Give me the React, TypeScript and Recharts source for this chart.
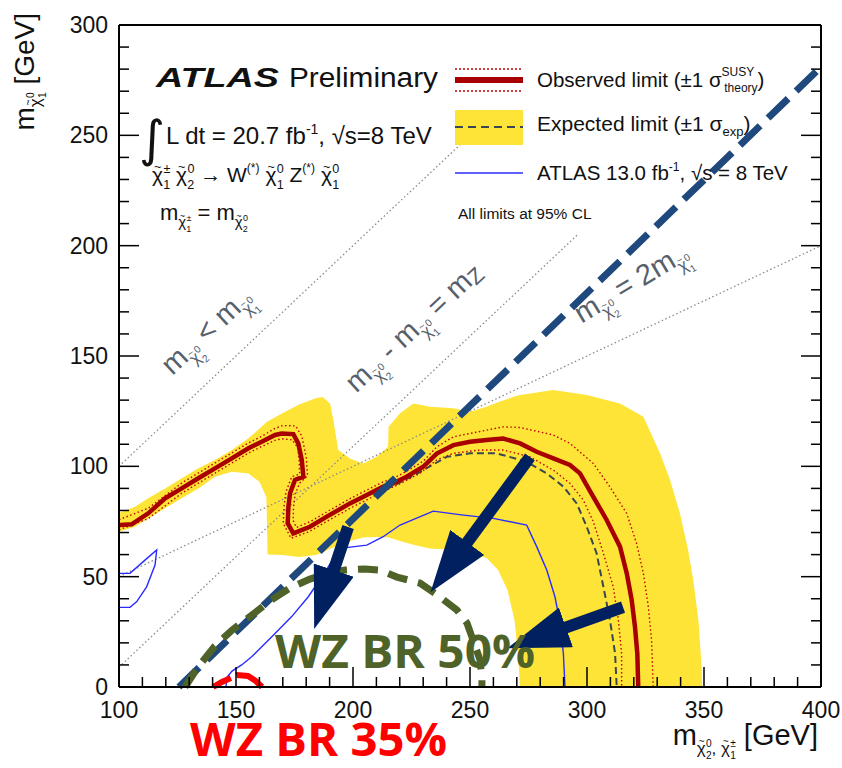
import { ComposedChart, Line, Area, XAxis, YAxis } from "recharts";

const SANS = "'Liberation Sans', Arial, Helvetica, sans-serif";
const BOLD_SANS = "'Open Sans', 'Noto Sans', sans-serif";

// axis ticks (GeV), minor every 10, labelled every 50
const xTicks = [100, 110, 120, 130, 140, 150, 160, 170, 180, 190, 200, 210, 220, 230, 240, 250, 260, 270, 280, 290, 300, 310, 320, 330, 340, 350, 360, 370, 380, 390, 400];
const yTicks = [0, 10, 20, 30, 40, 50, 60, 70, 80, 90, 100, 110, 120, 130, 140, 150, 160, 170, 180, 190, 200, 210, 220, 230, 240, 250, 260, 270, 280, 290, 300];

// expected limit +-1 sigma band: [low, high] per x
const expBand = [
  { x: 100, band: [70.4, 78.8] },
  { x: 106.8, band: [72.6, 81.7] },
  { x: 112.5, band: [76.4, 85.5] },
  { x: 119.7, band: [81.0, 90.0] },
  { x: 126.8, band: [85.5, 94.6] },
  { x: 133.9, band: [90.0, 99.1] },
  { x: 141.0, band: [95.3, 102.9] },
  { x: 148.2, band: [97.6, 107.4] },
  { x: 155.3, band: [96.8, 112.7] },
  { x: 160.0, band: [93.0, 117.0] },
  { x: 163.0, band: [86.0, 120.0] },
  { x: 163.5, band: [60.0, 120.3] },
  { x: 170.0, band: [59.8, 124.2] },
  { x: 177.0, band: [58.9, 128.0] },
  { x: 184.0, band: [59.8, 130.8] },
  { x: 187.0, band: [61.0, 131.4] },
  { x: 190.2, band: [62.6, 128.5] },
  { x: 191.6, band: [63.2, 121.0] },
  { x: 193.7, band: [64.2, 107.4] },
  { x: 198.7, band: [66.2, 103.6] },
  { x: 204.4, band: [67.8, 101.3] },
  { x: 210.1, band: [68.0, 104.3] },
  { x: 215.0, band: [67.8, 108.9] },
  { x: 215.2, band: [67.8, 117.9] },
  { x: 220.1, band: [66.2, 124.0] },
  { x: 225.8, band: [64.5, 128.5] },
  { x: 232.9, band: [62.8, 127.0] },
  { x: 242.9, band: [62.1, 126.3] },
  { x: 250.0, band: [60.7, 124.7] },
  { x: 257.1, band: [58.5, 127.0] },
  { x: 262.0, band: [53.0, 129.0] },
  { x: 266.0, band: [44.0, 130.5] },
  { x: 269.0, band: [30.4, 131.7] },
  { x: 270.5, band: [15.4, 132.1] },
  { x: 271.4, band: [0, 132.3] },
  { x: 285.6, band: [0, 134.6] },
  { x: 299.9, band: [0, 132.3] },
  { x: 314.1, band: [0, 128.5] },
  { x: 324.1, band: [0, 122.5] },
  { x: 331.2, band: [0, 105.9] },
  { x: 335.5, band: [0, 93.8] },
  { x: 339.7, band: [0, 78.7] },
  { x: 343.2, band: [0, 62.1] },
  { x: 345.4, band: [0, 48.5] },
  { x: 347.6, band: [0, 30.4] },
  { x: 349.0, band: [0, 9.2] },
  { x: 349.2, band: [0, 0] },
];

// observed limit
const observed = [
  { x: 100.4, y: 73.4 }, { x: 105.4, y: 73.7 }, { x: 112.5, y: 78.7 }, { x: 119.7, y: 85.5 },
  { x: 126.8, y: 90.0 }, { x: 133.9, y: 94.6 }, { x: 141.0, y: 99.1 }, { x: 148.2, y: 103.6 },
  { x: 155.3, y: 108.2 }, { x: 161.0, y: 111.1 }, { x: 166.7, y: 114.2 }, { x: 169.5, y: 114.9 },
  { x: 174.5, y: 114.6 }, { x: 176.6, y: 110.4 }, { x: 178.1, y: 102.9 }, { x: 178.8, y: 95.3 },
  { x: 175.2, y: 93.8 }, { x: 173.1, y: 87.8 }, { x: 172.4, y: 81.7 }, { x: 172.1, y: 74.2 },
  { x: 174.5, y: 69.6 }, { x: 181.6, y: 72.6 }, { x: 188.8, y: 77.2 }, { x: 198.7, y: 83.2 },
  { x: 205.9, y: 87.0 }, { x: 212.9, y: 90.8 }, { x: 217.2, y: 92.3 }, { x: 222.9, y: 95.3 },
  { x: 230.0, y: 99.8 }, { x: 235.8, y: 105.8 }, { x: 242.9, y: 109.6 }, { x: 250.0, y: 111.1 },
  { x: 257.1, y: 111.9 }, { x: 264.2, y: 112.6 }, { x: 271.4, y: 110.4 }, { x: 278.5, y: 106.6 },
  { x: 285.6, y: 103.6 }, { x: 292.7, y: 100.6 }, { x: 297.0, y: 96.8 }, { x: 302.7, y: 86.2 },
  { x: 308.4, y: 75.7 }, { x: 314.1, y: 63.6 }, { x: 317.0, y: 51.5 }, { x: 319.1, y: 39.4 },
  { x: 320.5, y: 27.3 }, { x: 321.5, y: 15.2 }, { x: 321.9, y: 0 },
];

// observed +1 sigma (theory)
const obsUp = [
  { x: 100, y: 75.8 }, { x: 112.5, y: 81.0 }, { x: 126.8, y: 92.4 }, { x: 141.0, y: 101.5 },
  { x: 155.3, y: 110.6 }, { x: 161.0, y: 113.6 }, { x: 166.7, y: 117.2 }, { x: 170.0, y: 118.5 },
  { x: 175.5, y: 118.3 }, { x: 178.2, y: 113.5 }, { x: 180.0, y: 104.0 }, { x: 180.6, y: 95.8 },
  { x: 177.3, y: 92.5 }, { x: 175.3, y: 87.6 }, { x: 174.6, y: 81.7 }, { x: 174.4, y: 75.5 },
  { x: 175.8, y: 72.3 }, { x: 181.8, y: 75.0 }, { x: 189.0, y: 79.5 }, { x: 199.0, y: 85.5 },
  { x: 206.0, y: 89.3 }, { x: 213.0, y: 93.0 }, { x: 217.5, y: 94.7 }, { x: 223.0, y: 97.8 },
  { x: 230.0, y: 102.3 }, { x: 235.8, y: 108.8 }, { x: 242.9, y: 113.4 }, { x: 250.0, y: 114.9 },
  { x: 264.2, y: 117.9 }, { x: 271.4, y: 117.6 }, { x: 285.6, y: 114.2 }, { x: 292.7, y: 110.4 },
  { x: 302.7, y: 101.3 }, { x: 309.8, y: 90.7 }, { x: 317.0, y: 78.6 }, { x: 321.2, y: 65.0 },
  { x: 324.1, y: 51.5 }, { x: 326.2, y: 36.4 }, { x: 327.6, y: 21.2 }, { x: 328.3, y: 0 },
];

// observed -1 sigma (theory)
const obsDn = [
  { x: 100, y: 71.2 }, { x: 112.5, y: 76.3 }, { x: 126.8, y: 87.8 }, { x: 141.0, y: 96.9 },
  { x: 155.3, y: 106.0 }, { x: 161.0, y: 109.0 }, { x: 166.7, y: 111.8 }, { x: 169.5, y: 112.5 },
  { x: 174.0, y: 112.0 }, { x: 176.4, y: 108.5 }, { x: 177.0, y: 102.5 }, { x: 177.2, y: 96.5 },
  { x: 173.8, y: 95.3 }, { x: 171.3, y: 88.2 }, { x: 170.5, y: 81.7 }, { x: 170.2, y: 74.2 },
  { x: 173.5, y: 67.4 }, { x: 181.3, y: 70.4 }, { x: 188.8, y: 75.0 }, { x: 198.7, y: 81.0 },
  { x: 205.9, y: 84.8 }, { x: 212.9, y: 88.6 }, { x: 220.0, y: 92.0 }, { x: 228.6, y: 96.9 },
  { x: 235.8, y: 102.9 }, { x: 242.9, y: 105.9 }, { x: 254.3, y: 107.4 }, { x: 264.2, y: 107.4 },
  { x: 275.6, y: 104.3 }, { x: 285.6, y: 98.3 }, { x: 292.7, y: 92.3 }, { x: 298.4, y: 84.7 },
  { x: 302.6, y: 75.2 }, { x: 307.0, y: 60.6 }, { x: 311.2, y: 45.4 }, { x: 313.4, y: 30.4 },
  { x: 314.8, y: 15.1 }, { x: 314.8, y: 0 },
];

// expected limit
const expected = [
  { x: 210.0, y: 87.5 }, { x: 217.9, y: 91.5 }, { x: 228.6, y: 97.4 }, { x: 240.0, y: 104.3 },
  { x: 250.0, y: 105.9 }, { x: 261.4, y: 105.9 }, { x: 274.2, y: 102.1 }, { x: 282.8, y: 96.8 },
  { x: 289.9, y: 90.8 }, { x: 295.6, y: 83.2 }, { x: 299.9, y: 72.6 }, { x: 304.1, y: 60.6 },
  { x: 307.0, y: 45.4 }, { x: 309.8, y: 30.4 }, { x: 312.0, y: 15.2 }, { x: 312.7, y: 0 },
];

// ATLAS 13.0 fb-1 contours
const atlas13Left = [
  { x: 100.4, y: 51.5 }, { x: 104.7, y: 51.5 }, { x: 111.1, y: 57.5 }, { x: 116.1, y: 62.1 },
  { x: 115.4, y: 55.3 }, { x: 111.8, y: 45.4 }, { x: 107.6, y: 38.7 }, { x: 104.7, y: 36.1 },
  { x: 100.4, y: 36.1 },
];
const atlas13Main = [
  { x: 145.7, y: 0 }, { x: 146.2, y: 4.5 }, { x: 148.3, y: 7.2 }, { x: 152.4, y: 10.0 },
  { x: 156.7, y: 13.7 }, { x: 165.3, y: 22.8 }, { x: 173.8, y: 31.9 }, { x: 180.9, y: 40.9 },
  { x: 188.0, y: 52.1 }, { x: 194.4, y: 62.8 }, { x: 205.9, y: 64.3 }, { x: 212.9, y: 68.1 },
  { x: 220.1, y: 73.4 }, { x: 234.3, y: 79.7 }, { x: 247.2, y: 77.9 }, { x: 260.0, y: 76.4 },
  { x: 274.2, y: 73.4 }, { x: 278.5, y: 63.6 }, { x: 282.8, y: 53.0 }, { x: 286.3, y: 40.9 },
  { x: 288.5, y: 28.9 }, { x: 289.9, y: 15.2 }, { x: 290.6, y: 0 },
];

// kinematic reference lines
const diagEqual = [{ x: 100, y: 100 }, { x: 246, y: 246 }];
const diagMz = [{ x: 100, y: 9 }, { x: 296, y: 205 }];
const diagHalf = [{ x: 100, y: 50 }, { x: 400, y: 200 }];

// annotations
const wzBoundary = [{ x: 125.6, y: 0 }, { x: 400, y: 281 }];
const wz50 = [
  { x: 128.2, y: 0 }, { x: 133.8, y: 9.1 }, { x: 141.0, y: 18.6 }, { x: 148.3, y: 25.8 },
  { x: 156.8, y: 32.6 }, { x: 164.5, y: 39.0 }, { x: 173.1, y: 44.9 }, { x: 181.6, y: 48.9 },
  { x: 190.2, y: 51.7 }, { x: 196.6, y: 53.0 }, { x: 205.1, y: 53.5 }, { x: 211.5, y: 53.0 },
  { x: 218.8, y: 49.8 }, { x: 228.6, y: 47.1 }, { x: 237.2, y: 40.8 }, { x: 244.4, y: 34.9 },
  { x: 248.7, y: 29.0 }, { x: 251.3, y: 21.3 }, { x: 254.3, y: 12.2 }, { x: 255.1, y: 3.2 },
  { x: 255.1, y: 0 },
];
const wz35 = [
  { x: 140.2, y: 0 }, { x: 144.0, y: 2.3 }, { x: 147.9, y: 4.1 }, { x: 150.4, y: 5.4 },
  { x: 155.1, y: 5.0 }, { x: 158.5, y: 2.7 }, { x: 161.1, y: 0 },
];
const arrowA = [{ x: 197.9, y: 72.5 }, { x: 191.5, y: 52.1 }];
const arrowB = [{ x: 275.6, y: 104.2 }, { x: 248.3, y: 64.8 }];
const arrowC = [{ x: 315.4, y: 36.2 }, { x: 290.2, y: 26.7 }];

const frame = { stroke: "#000", strokeWidth: 2 };

const tickLen = (v: number) => (v % 50 === 0 ? 20 : 10);

const bottomTick = (p: any) => {
  const v = p.payload.value;
  return (
    <g>
      <line x1={p.x} y1={p.y} x2={p.x} y2={p.y - tickLen(v)} stroke="#000" strokeWidth={1.5} />
      {v % 50 === 0 && (
        <text x={p.x} y={p.y + 31} textAnchor="middle" fontSize={23} fontFamily={SANS} fill="#111">
          {v}
        </text>
      )}
    </g>
  );
};
const topTick = (p: any) => (
  <line x1={p.x} y1={p.y} x2={p.x} y2={p.y + tickLen(p.payload.value)} stroke="#000" strokeWidth={1.5} />
);
const leftTick = (p: any) => {
  const v = p.payload.value;
  return (
    <g>
      <line x1={p.x} y1={p.y} x2={p.x + tickLen(v)} y2={p.y} stroke="#000" strokeWidth={1.5} />
      {v % 50 === 0 && (
        <text x={p.x - 11} y={p.y + 8} textAnchor="end" fontSize={23} fontFamily={SANS} fill="#111">
          {v}
        </text>
      )}
    </g>
  );
};
const rightTick = (p: any) => (
  <line x1={p.x} y1={p.y} x2={p.x - tickLen(p.payload.value)} y2={p.y} stroke="#000" strokeWidth={1.5} />
);

// rich text: each piece carries its own size and baseline offset
type Seg = { t: string; s: number; o?: number; dx?: number };
const rich = (segs: Seg[]) => {
  let prev = 0;
  return segs.map((g, i) => {
    const o = g.o ?? 0;
    const dy = o - prev;
    prev = o;
    return (
      <tspan key={i} fontSize={g.s} dy={dy} dx={g.dx}>
        {g.t}
      </tspan>
    );
  });
};
// neutralino / chargino symbol: chi with a tilde, stacked sup/sub
const chi = (sup: string, sub: string, s: number, o: number): Seg[] => [
  { t: "\u03c7", s, o },
  { t: "~", s: s * 0.6, o: o - s * 0.52, dx: -s * 0.43 },
  { t: sup, s: s * 0.6, o: o - s * 0.42, dx: s * 0.1 },
  { t: sub, s: s * 0.6, o: o + s * 0.32, dx: -s * 0.6 * 0.57 },
];

const GRAY = "#56606b";

export default function App() {
  return (
    <div style={{ position: "fixed", left: 0, top: 0, width: 842, height: 768, background: "#fff" }}>
      <ComposedChart width={842} height={768} margin={{ top: 24, right: 20, bottom: 80, left: 118 }}>
        <XAxis dataKey="x" type="number" domain={[100, 400]} ticks={xTicks} interval={0} height={1}
          tickSize={0} tickMargin={0} tickLine={false} tick={bottomTick} axisLine={frame} />
        <XAxis xAxisId="t" orientation="top" type="number" domain={[100, 400]} allowDataOverflow ticks={xTicks}
          interval={0} height={1} tickSize={0} tickMargin={0} tickLine={false} tick={topTick} axisLine={frame} />
        <YAxis type="number" domain={[0, 300]} ticks={yTicks} interval={0} width={1}
          tickSize={0} tickMargin={0} tickLine={false} tick={leftTick} axisLine={frame} />
        <YAxis yAxisId="r" orientation="right" type="number" domain={[0, 300]} allowDataOverflow ticks={yTicks}
          interval={0} width={1} tickSize={0} tickMargin={0} tickLine={false} tick={rightTick} axisLine={frame} />

        <Area data={expBand} dataKey="band" type="linear" fill="#ffe438" fillOpacity={1} stroke="none" isAnimationActive={false} />

        <Line data={diagEqual} dataKey="y" stroke="#8a8a8a" strokeWidth={1.3} strokeDasharray="1.5 2.5" dot={false} isAnimationActive={false} />
        <Line data={diagMz} dataKey="y" stroke="#8a8a8a" strokeWidth={1.3} strokeDasharray="1.5 2.5" dot={false} isAnimationActive={false} />
        <Line data={diagHalf} dataKey="y" stroke="#8a8a8a" strokeWidth={1.3} strokeDasharray="1.5 2.5" dot={false} isAnimationActive={false} />

        <Line data={atlas13Left} dataKey="y" stroke="#2b2bff" strokeWidth={1.4} dot={false} isAnimationActive={false} />
        <Line data={atlas13Main} dataKey="y" stroke="#2b2bff" strokeWidth={1.4} dot={false} isAnimationActive={false} />
        <Line data={expected} dataKey="y" stroke="#3a4650" strokeWidth={2} strokeDasharray="7 4" dot={false} isAnimationActive={false} />
        <Line data={obsUp} dataKey="y" stroke="#c00000" strokeWidth={1.4} strokeDasharray="1.5 2.5" dot={false} isAnimationActive={false} />
        <Line data={obsDn} dataKey="y" stroke="#c00000" strokeWidth={1.4} strokeDasharray="1.5 2.5" dot={false} isAnimationActive={false} />
        <Line data={observed} dataKey="y" stroke="#a80000" strokeWidth={4.5} dot={false} isAnimationActive={false} />

        <Line data={wzBoundary} dataKey="y" stroke="#1f497d" strokeWidth={7} strokeDasharray="28 11" dot={false} isAnimationActive={false} />
        <Line data={wz50} dataKey="y" stroke="#4f6228" strokeWidth={7} strokeDasharray="20 11" dot={false} isAnimationActive={false} />
        <Line data={wz35} dataKey="y" stroke="#ff0000" strokeWidth={6} strokeDasharray="20 6 40" dot={false} isAnimationActive={false} />
        <Line data={arrowA} dataKey="y" stroke="#002060" strokeWidth={12} markerEnd="url(#navyHead)" dot={false} isAnimationActive={false} />
        <Line data={arrowB} dataKey="y" stroke="#002060" strokeWidth={12} markerEnd="url(#navyHead)" dot={false} isAnimationActive={false} />
        <Line data={arrowC} dataKey="y" stroke="#002060" strokeWidth={12} markerEnd="url(#navyHead)" dot={false} isAnimationActive={false} />
      </ComposedChart>

      <svg width={842} height={768} style={{ position: "absolute", left: 0, top: 0, pointerEvents: "none" }}
        fontFamily={SANS} fill="#111">
        <defs>
          <marker id="navyHead" markerUnits="userSpaceOnUse" markerWidth={64} markerHeight={42} refX={2} refY={21} orient="auto">
            <path d="M0,0 L62,21 L0,42 Z" fill="#002060" />
          </marker>
        </defs>

        {/* axis titles */}
        <text transform="translate(34,13) rotate(-90)" textAnchor="end">
          {rich([{ t: "m", s: 28 }, ...chi("0", "1", 17, 7), { t: " [GeV]", s: 28, o: 0 }])}
        </text>
        <text x={818} y={745} textAnchor="end">
          {rich([{ t: "m", s: 29 }, ...chi("0", "2", 17, 9), { t: ", ", s: 17, o: 9 }, ...chi("\u00b1", "1", 17, 9), { t: " [GeV]", s: 29, o: 0 }])}
        </text>

        {/* top-left header */}
        <text x={156} y={87} fontSize={28} fontWeight="bold" fontStyle="italic" textLength={123} lengthAdjust="spacingAndGlyphs">ATLAS</text>
        <text x={289} y={87} fontSize={27} textLength={149} lengthAdjust="spacingAndGlyphs">Preliminary</text>
        <text x={139} y={156} fontSize={50} fontFamily="'DejaVu Sans', sans-serif">{"\u222b"}</text>
        <text x={166} y={144}>
          {rich([{ t: "L dt = 20.7 fb", s: 24 }, { t: "-1", s: 14, o: -10 }, { t: ", \u221as=8 TeV", s: 24, o: 0 }])}
        </text>
        <text x={152} y={182}>
          {rich([
            ...chi("\u00b1", "1", 21, 0), { t: " ", s: 21, o: 0 },
            ...chi("0", "2", 21, 0), { t: " \u2192 W", s: 21, o: 0 }, { t: "(*)", s: 12, o: -10 },
            { t: " ", s: 21, o: 0 }, ...chi("0", "1", 21, 0), { t: " Z", s: 21, o: 0 }, { t: "(*)", s: 12, o: -10 },
            { t: " ", s: 21, o: 0 }, ...chi("0", "1", 21, 0),
          ])}
        </text>
        <text x={160} y={220}>
          {rich([{ t: "m", s: 22 }, ...chi("\u00b1", "1", 15, 7), { t: " = m", s: 22, o: 0 }, ...chi("0", "2", 15, 7)])}
        </text>

        {/* legend */}
        <line x1={455} y1={69} x2={523} y2={69} stroke="#c00000" strokeWidth={1.5} strokeDasharray="2 2" />
        <line x1={455} y1={80} x2={523} y2={80} stroke="#a80000" strokeWidth={6} />
        <line x1={455} y1={91} x2={523} y2={91} stroke="#c00000" strokeWidth={1.5} strokeDasharray="2 2" />
        <text x={537} y={87}>
          {rich([{ t: "Observed limit (\u00b11 \u03c3", s: 20.5 }, { t: "SUSY", s: 12, o: -11 }, { t: "theory", s: 12, o: 5, dx: -30 }, { t: ")", s: 20.5, o: 0 }])}
        </text>
        <rect x={455} y={110} width={68} height={35} fill="#ffe438" />
        <line x1={455} y1={127} x2={523} y2={127} stroke="#3a4650" strokeWidth={2} strokeDasharray="8 5" />
        <text x={537} y={131}>
          {rich([{ t: "Expected limit (\u00b11 \u03c3", s: 21 }, { t: "exp", s: 13, o: 5 }, { t: ")", s: 21, o: 0 }])}
        </text>
        <line x1={455} y1={173} x2={523} y2={173} stroke="#2b2bff" strokeWidth={1.5} />
        <text x={537} y={180}>
          {rich([{ t: "ATLAS 13.0 fb", s: 20.5 }, { t: "-1", s: 12, o: -9 }, { t: ", \u221as = 8 TeV", s: 20.5, o: 0 }])}
        </text>
        <text x={458} y={219} fontSize={15.5}>All limits at 95% CL</text>

        {/* kinematic line labels */}
        <text transform="translate(213,338) rotate(-43)" textAnchor="middle" fill={GRAY}>
          {rich([{ t: "m", s: 29 }, ...chi("0", "2", 17, 8), { t: " < m", s: 29, o: 0 }, ...chi("0", "1", 17, 8)])}
        </text>
        <text transform="translate(420,334) rotate(-43)" textAnchor="middle" fill={GRAY}>
          {rich([{ t: "m", s: 29 }, ...chi("0", "2", 17, 8), { t: " - m", s: 29, o: 0 }, ...chi("0", "1", 17, 8), { t: " = m", s: 29, o: 0 }, { t: "Z", s: 22, o: 3 }])}
        </text>
        <text transform="translate(636,291) rotate(-31)" textAnchor="middle" fill={GRAY}>
          {rich([{ t: "m", s: 29 }, ...chi("0", "2", 17, 8), { t: " = 2m", s: 29, o: 0 }, ...chi("0", "1", 17, 8)])}
        </text>

        {/* WZ branching-ratio annotations */}
        <text x={275} y={668} fontSize={47} fontWeight="bold" fontFamily={BOLD_SANS} fill="#4f6228" textLength={260} lengthAdjust="spacingAndGlyphs">WZ BR 50%</text>
        <text x={190} y={756} fontSize={46} fontWeight="bold" fontFamily={BOLD_SANS} fill="#ff0000" textLength={257} lengthAdjust="spacingAndGlyphs">WZ BR 35%</text>
      </svg>
    </div>
  );
}
